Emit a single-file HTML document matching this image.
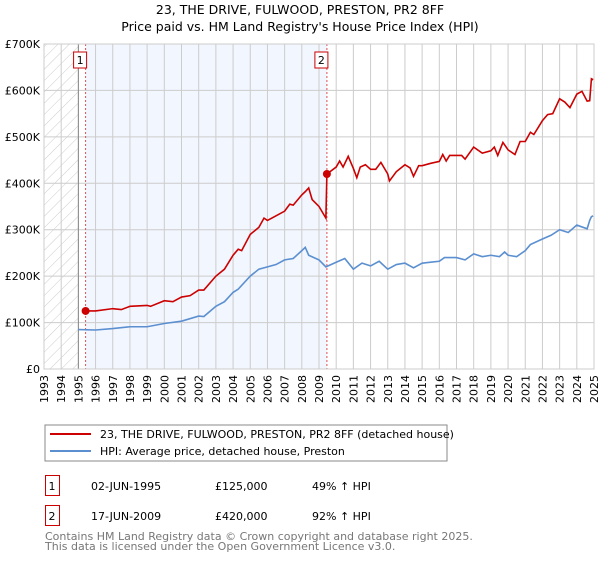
<!DOCTYPE html>
<html><head><meta charset="utf-8"><style>
body{margin:0;background:#fff;font-family:"DejaVu Sans","Liberation Sans",sans-serif;}
svg text{font-family:"DejaVu Sans","Liberation Sans",sans-serif;}
</style></head><body>
<svg id="c" width="600" height="560">
<text x="300" y="14" font-size="12.5" text-anchor="middle">23, THE DRIVE, FULWOOD, PRESTON, PR2 8FF</text>
<text x="300" y="31" font-size="12.5" text-anchor="middle">Price paid vs. HM Land Registry's House Price Index (HPI)</text>
<g id="plot"></g>
<rect x="45" y="425" width="402" height="36" fill="#fff" stroke="#888"/>
<line x1="50" y1="434" x2="91" y2="434" stroke="#cc0000" stroke-width="2"/>
<text x="100" y="438" font-size="11">23, THE DRIVE, FULWOOD, PRESTON, PR2 8FF (detached house)</text>
<line x1="50" y1="451" x2="91" y2="451" stroke="#5b8fd0" stroke-width="2"/>
<text x="100" y="455" font-size="11">HPI: Average price, detached house, Preston</text>
<g>
<rect x="45.5" y="475.5" width="14" height="20" fill="#fff" stroke="#cc0000"/>
<text x="52" y="490" font-size="11" text-anchor="middle">1</text>
<text x="91" y="490" font-size="11">02-JUN-1995</text>
<text x="215" y="490" font-size="11">£125,000</text>
<text x="312" y="490" font-size="11">49% ↑ HPI</text></g>
<g>
<rect x="45.5" y="505.5" width="14" height="20" fill="#fff" stroke="#cc0000"/>
<text x="52" y="520" font-size="11" text-anchor="middle">2</text>
<text x="91" y="520" font-size="11">17-JUN-2009</text>
<text x="215" y="520" font-size="11">£420,000</text>
<text x="312" y="520" font-size="11">92% ↑ HPI</text></g>
<text x="45" y="540" font-size="11" fill="#777">Contains HM Land Registry data © Crown copyright and database right 2025.</text>
<text x="45" y="550" font-size="11" fill="#777">This data is licensed under the Open Government Licence v3.0.</text>
</svg>
<script>
const propYears=[1995.42,1996,1997,1997.5,1998,1999,1999.2,2000,2000.5,2001,2001.5,2002,2002.3,2003,2003.5,2004,2004.3,2004.5,2005,2005.5,2005.8,2006,2006.5,2007,2007.3,2007.5,2008,2008.2,2008.4,2008.6,2009,2009.4,2009.46,2010,2010.2,2010.4,2010.7,2011,2011.2,2011.4,2011.7,2012,2012.3,2012.6,2013,2013.1,2013.5,2014,2014.3,2014.5,2014.8,2015,2015.5,2016,2016.2,2016.4,2016.6,2017,2017.3,2017.5,2018,2018.5,2019,2019.2,2019.4,2019.7,2020,2020.4,2020.7,2021,2021.3,2021.5,2022,2022.3,2022.6,2023,2023.3,2023.6,2024,2024.3,2024.6,2024.75,2024.85,2024.95];
const propValues=[125,125,130,128,135,137,135,147,145,155,158,170,170,200,215,245,258,255,290,305,325,320,330,340,355,353,375,382,390,365,350,325,420,435,448,435,458,432,412,435,440,430,430,445,420,405,425,440,433,415,438,438,443,447,462,448,460,460,460,452,478,465,470,478,460,488,472,462,490,490,510,505,535,548,550,582,575,563,592,598,577,578,625,623];
const hpiYears=[1995,1996,1997,1998,1999,2000,2001,2002,2002.3,2003,2003.5,2004,2004.3,2005,2005.5,2006,2006.5,2007,2007.5,2008,2008.2,2008.4,2009,2009.4,2010,2010.5,2011,2011.5,2012,2012.5,2013,2013.5,2014,2014.5,2015,2015.5,2016,2016.3,2017,2017.5,2018,2018.5,2019,2019.5,2019.8,2020,2020.5,2021,2021.3,2022,2022.5,2023,2023.5,2024,2024.6,2024.75,2024.85,2024.95];
const hpiValues=[85,84,87,91,91,98,103,114,113,135,145,165,172,200,215,220,225,235,238,255,262,245,235,220,230,238,215,228,222,232,215,225,228,218,228,230,232,240,240,235,248,242,245,242,252,245,242,255,268,280,288,300,294,310,302,320,328,330];
const yTicks=[0,100,200,300,400,500,600,700];
const yTickLabels=["£0","£100K","£200K","£300K","£400K","£500K","£600K","£700K"];
const xTicks=[1993,1994,1995,1996,1997,1998,1999,2000,2001,2002,2003,2004,2005,2006,2007,2008,2009,2010,2011,2012,2013,2014,2015,2016,2017,2018,2019,2020,2021,2022,2023,2024,2025];
const sales=[{n:"1",year:1995.42,value:125},{n:"2",year:2009.46,value:420}];
const X0=44,X1=594,Y0=369,Y1=44;
const xs=y=>X0+(y-1993)/(2025-1993)*(X1-X0);
const ys=v=>Y0-v/700*(Y0-Y1);
const NS="http://www.w3.org/2000/svg";
const g=document.getElementById('plot');
function mk(t,a,parent){const e=document.createElementNS(NS,t);for(const k in a)e.setAttribute(k,a[k]);(parent||g).appendChild(e);return e;}
const defs=mk('defs',{});
const pat=mk('pattern',{id:'hatch',width:8,height:8,patternUnits:'userSpaceOnUse',patternTransform:'rotate(45)'},defs);
mk('line',{x1:0,y1:0,x2:0,y2:8,stroke:'#ccc','stroke-width':1},pat);
const hatch=mk('rect',{x:X0,y:Y1,width:xs(1995)-X0,height:Y0-Y1,fill:'url(#hatch)'});


const shade=mk('rect',{x:xs(sales[0].year),y:Y1,width:xs(sales[1].year)-xs(sales[0].year),height:Y0-Y1,fill:'#f2f6fe'});


xTicks.forEach(t=>{
 const l=mk('line',{x1:xs(t),y1:Y1,x2:xs(t),y2:Y0,stroke:'#ccc'});
 
 
 const tx=mk('text',{x:0,y:0,'font-size':11,'text-anchor':'end',transform:`translate(${xs(t)+4},${Y0+6}) rotate(-90)`});
 tx.textContent=t;
 
 
});
yTicks.forEach((t,i)=>{
 const l=mk('line',{x1:X0,y1:ys(t),x2:X1,y2:ys(t),stroke:'#ccc'});
 
 
 const tx=mk('text',{x:X0-4,y:ys(t)+4,'font-size':11,'text-anchor':'end'});
 tx.textContent=yTickLabels[i];
 
 
});
const ax=mk('line',{x1:xs(1995),y1:Y1,x2:xs(1995),y2:Y0,stroke:'#888'});


sales.forEach(s=>{
 const l=mk('line',{x1:xs(s.year),y1:Y1,x2:xs(s.year),y2:Y0,stroke:'#e05050','stroke-dasharray':'2,2'});
 
 
 const r=mk('rect',{x:xs(s.year)-12,y:52,width:13,height:16,fill:'#fff',stroke:'#cc0000'});
 
 
 const t=mk('text',{x:xs(s.year)-5.5,y:64,'font-size':11,'text-anchor':'middle'});
 t.textContent=s.n;
 
 
});
function line(xsA,vs,col,name){
 const p=mk('polyline',{points:xsA.map((y,i)=>xs(y)+','+ys(vs[i])).join(' '),fill:'none',stroke:col,'stroke-width':1.6});
 
 
}
line(hpiYears,hpiValues,'#5b8fd0','hpi-line');
line(propYears,propValues,'#cc0000','property-line');
sales.forEach(s=>{
 const c=mk('circle',{cx:xs(s.year),cy:ys(s.value),r:4,fill:'#cc0000'});
 
 
});
const bd=mk('rect',{x:X0,y:Y1,width:X1-X0,height:Y0-Y1,fill:'none',stroke:'#ccc'});


</script>
</body></html>
